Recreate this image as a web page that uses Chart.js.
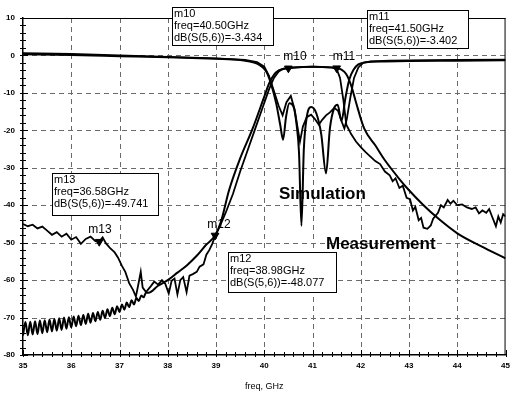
<!DOCTYPE html>
<html>
<head>
<meta charset="utf-8">
<script src="https://cdn.jsdelivr.net/npm/chart.js@4/dist/chart.umd.min.js"></script>
<style>
  html, body { margin: 0; padding: 0; background: #fff; }
  #chart { display: block; }
</style>
</head>
<body>
<canvas id="chart" width="516" height="396"></canvas>
<script>
// Simulated S(5,6)
const simS21Freq = [
  35.00, 35.05, 35.10, 35.15, 35.20, 35.25, 35.30, 35.35, 35.40, 35.45,
  35.50, 35.55, 35.60, 35.65, 35.70, 35.75, 35.80, 35.85, 35.90, 35.95,
  36.00, 36.05, 36.10, 36.15, 36.20, 36.25, 36.30, 36.35, 36.40, 36.45,
  36.50, 36.55, 36.60, 36.65, 36.70, 36.75, 36.80, 36.85, 36.90, 36.95,
  37.00, 37.05, 37.10, 37.15, 37.20, 37.25, 37.30, 37.35, 37.40, 37.45,
  37.50, 37.55, 37.60, 37.80, 38.00, 38.20, 38.40, 38.60, 38.80, 38.98,
  39.10, 39.27, 39.50, 39.76, 40.00, 40.10, 40.20, 40.30, 40.50, 40.80,
  41.00, 41.20, 41.50, 41.60, 41.70, 41.80, 41.90, 42.07, 42.30, 42.50,
  42.80, 43.00, 43.30, 43.60, 44.00, 44.50, 45.00
];
const simS21Db = [
  -74.8, -71.2, -74.7, -71.1, -74.5, -71.0, -74.4, -70.8, -74.2, -70.7,
  -73.9, -70.5, -73.7, -70.4, -73.5, -70.2, -73.3, -70.0, -73.0, -69.9,
  -72.6, -69.7, -72.3, -69.5, -72.0, -69.3, -71.7, -69.0, -71.4, -68.8,
  -71.0, -68.5, -70.6, -68.2, -70.1, -67.8, -69.6, -67.4, -69.1, -67.0,
  -68.5, -66.5, -67.9, -66.0, -67.2, -65.4, -66.5, -64.8, -65.6, -64.1,
  -64.6, -63.3, -63.4, -61.5, -60.0, -58.0, -56.0, -53.5, -50.5, -48.1,
  -44.5, -36.0, -27.5, -19.5, -11.0, -7.5, -5.2, -4.0, -3.4, -3.1,
  -3.0, -3.1, -3.4, -3.8, -5.0, -8.0, -12.5, -19.5, -24.0, -28.0,
  -33.0, -36.0, -40.0, -43.5, -47.5, -51.0, -54.2
];

// Measured S(5,6)
const measS21Freq = [
  35.00, 35.10, 35.20, 35.30, 35.40, 35.50, 35.60, 35.70, 35.80, 35.90,
  36.00, 36.10, 36.20, 36.30, 36.40, 36.50, 36.58, 36.65, 36.72, 36.80,
  36.90, 36.97, 37.05, 37.12, 37.20, 37.28, 37.34, 37.40, 37.44, 37.48,
  37.55, 37.65, 37.72, 37.80, 37.88, 37.95, 38.02, 38.08, 38.14, 38.20,
  38.26, 38.32, 38.39, 38.45, 38.52, 38.60, 38.66, 38.74, 38.80, 38.86,
  38.92, 38.98, 39.10, 39.20, 39.35, 39.50, 39.65, 39.80, 39.95, 40.10,
  40.20, 40.30, 40.40, 40.60, 41.00, 41.40, 41.50, 41.57, 41.64, 41.70,
  41.80, 41.90, 42.00, 42.10, 42.20, 42.30, 42.40, 42.50, 42.60, 42.66,
  42.72, 42.80, 42.87, 42.95, 43.02, 43.08, 43.13, 43.20, 43.25, 43.30,
  43.38, 43.45, 43.50, 43.60, 43.66, 43.72, 43.80, 43.86, 43.92, 44.00,
  44.10, 44.20, 44.30, 44.38, 44.45, 44.52, 44.60, 44.66, 44.72, 44.80,
  44.85, 44.90, 44.95, 45.00
];
const measS21Db = [
  -45.0, -45.6, -45.2, -46.2, -45.7, -46.8, -47.9, -47.2, -48.4, -47.6,
  -49.2, -48.5, -50.3, -49.0, -48.4, -49.6, -49.7, -48.6, -50.2, -51.4,
  -52.6, -54.0, -56.2, -57.8, -60.8, -62.6, -64.4, -60.5, -57.8, -62.0,
  -63.2, -61.6, -60.4, -61.2, -60.0, -61.0, -63.6, -60.2, -59.6, -63.8,
  -60.0, -59.2, -63.2, -58.8, -58.4, -57.8, -56.4, -55.8, -53.2, -52.0,
  -50.4, -48.3, -45.0, -42.0, -37.0, -31.0, -25.5, -20.0, -14.5, -9.0,
  -6.0, -4.3, -3.5, -3.2, -3.0, -3.2, -3.6, -6.0, -12.0, -18.5,
  -21.0, -23.0, -24.5, -25.8, -27.0, -28.2, -29.0, -31.0, -32.0, -33.6,
  -32.8, -35.4, -34.8, -38.0, -38.4, -41.4, -40.4, -44.0, -43.4, -46.0,
  -46.3, -45.4, -43.6, -42.0, -40.0, -40.6, -38.6, -39.6, -38.8, -40.0,
  -39.8, -40.6, -41.0, -40.6, -42.2, -41.4, -42.0, -41.0, -43.0, -45.6,
  -43.0, -44.6, -42.4, -43.0
];

// Simulated reflection (flat outside the band, notches inside)
const simS11Freq = [
  35.0, 36.0, 37.0, 38.0, 39.0, 39.5, 39.7, 39.85, 39.95, 40.05,
  40.15, 40.25, 40.33, 40.39, 40.45, 40.52, 40.60, 40.67, 40.72, 40.77,
  40.82, 40.88, 40.97, 41.08, 41.18, 41.28, 41.36, 41.45, 41.52, 41.60,
  41.68, 41.76, 41.85, 41.95, 42.1, 42.5, 43.0, 44.0, 45.0
];
const simS11Db = [
  0.3, 0.1, -0.2, -0.5, -0.9, -1.2, -1.6, -2.2, -3.0, -4.5,
  -8.0, -13.0, -18.5, -22.5, -16.5, -12.8, -13.5, -18.5, -26.0, -45.5,
  -25.0, -16.5, -13.8, -15.5, -21.0, -31.5, -19.5, -14.0, -13.2, -17.5,
  -11.5, -6.5, -3.8, -2.4, -1.8, -1.6, -1.5, -1.4, -1.3
];

// Measured reflection
const measS11Freq = [
  35.0, 36.0, 37.0, 38.0, 39.0, 39.6, 39.85, 40.0, 40.1, 40.2,
  40.3, 40.38, 40.46, 40.55, 40.63, 40.70, 40.74, 40.80, 40.88, 40.97,
  41.05, 41.13, 41.20, 41.28, 41.36, 41.45, 41.53, 41.60, 41.66, 41.71,
  41.78, 41.86, 41.95, 42.05, 42.2, 42.6, 43.0, 44.0, 45.0
];
const measS11Db = [
  0.6, 0.4, 0.0, -0.4, -0.8, -1.2, -1.8, -3.0, -5.5, -9.5,
  -13.5, -16.0, -12.5, -10.8, -14.5, -20.0, -23.0, -19.0, -16.5, -15.8,
  -17.0, -18.5, -17.2, -16.0, -15.2, -14.0, -14.8, -17.5, -19.5, -17.0,
  -11.5, -6.0, -3.2, -2.0, -1.6, -1.4, -1.3, -1.2, -1.1
];

// Markers
const markerNames = ["m10", "m11", "m12", "m13"];
const markerFreq = [40.50, 41.50, 38.98, 36.58];
const markerDb = [-3.434, -3.402, -48.077, -49.741];

// Tick labels
const xTicks = [35, 36, 37, 38, 39, 40, 41, 42, 43, 44, 45];
const yTicks = [10, 0, -10, -20, -30, -40, -50, -60, -70, -80];

function toPoints(xs, ys) {
  return xs.map((x, i) => ({ x: x, y: ys[i] }));
}

function curve(label, xs, ys, width, smooth) {
  return {
    label: label,
    data: toPoints(xs, ys),
    borderColor: "#000",
    borderWidth: width,
    pointRadius: 0,
    tension: smooth ? 0.4 : 0,
    cubicInterpolationMode: smooth ? "monotone" : "default",
    fill: false,
  };
}

// Marker box positions (left, top, width, height) and label spots
const boxLayout = {
  m10: { box: [172, 7, 101, 38], label: [295, 60] },
  m11: { box: [367, 10, 101, 38], label: [344, 60] },
  m12: { box: [228, 252, 108, 40], label: [219, 228] },
  m13: { box: [52, 173, 106, 42], label: [100, 233] },
};

const framePlugin = {
  id: "frame",
  beforeDatasetsDraw(chart) {
    const { ctx, chartArea: a, scales } = chart;
    ctx.save();
    // dashed grid
    ctx.strokeStyle = "#6a6a6a";
    ctx.lineWidth = 1;
    ctx.setLineDash([5, 4]);
    ctx.beginPath();
    xTicks.slice(1, -1).forEach((v) => {
      const px = Math.round(scales.x.getPixelForValue(v)) + 0.5;
      ctx.moveTo(px, a.top);
      ctx.lineTo(px, a.bottom);
    });
    yTicks.slice(1, -1).forEach((v) => {
      const py = Math.round(scales.y.getPixelForValue(v)) + 0.5;
      ctx.moveTo(a.left, py);
      ctx.lineTo(a.right, py);
    });
    ctx.stroke();
    ctx.setLineDash([]);
    ctx.strokeStyle = "#000";
    // top and right border
    ctx.beginPath();
    ctx.moveTo(a.left, a.top + 0.5);
    ctx.lineTo(a.right, a.top + 0.5);
    ctx.moveTo(a.right - 0.5, a.top);
    ctx.lineTo(a.right - 0.5, a.bottom);
    ctx.stroke();
    // minor / major ticks on x
    ctx.beginPath();
    for (let v = 350; v <= 450; v += 2) {
      const px = Math.round(scales.x.getPixelForValue(v / 10)) + 0.5;
      const len = v % 10 === 0 ? 5 : 3;
      ctx.moveTo(px, a.bottom + 2);
      ctx.lineTo(px, a.bottom - len);
    }
    // minor / major ticks on y
    for (let v = -80; v <= 10; v += 2) {
      const py = Math.round(scales.y.getPixelForValue(v)) + 0.5;
      const len = v % 10 === 0 ? 5 : 3;
      ctx.moveTo(a.left - 3, py);
      ctx.lineTo(a.left + len, py);
    }
    ctx.stroke();
    ctx.restore();
  },
  afterDatasetsDraw(chart) {
    const { ctx } = chart;
    ctx.save();
    ctx.fillStyle = "#000";
    ctx.textBaseline = "alphabetic";
    markerNames.forEach((name, i) => {
      const lay = boxLayout[name];
      const [bx, by, bw, bh] = lay.box;
      ctx.fillStyle = "#fff";
      ctx.fillRect(bx, by, bw, bh);
      ctx.strokeStyle = "#000";
      ctx.lineWidth = 1;
      ctx.strokeRect(bx + 0.5, by + 0.5, bw, bh);
      ctx.fillStyle = "#000";
      ctx.font = "11px 'Liberation Sans', Arial, sans-serif";
      ctx.textAlign = "left";
      const lines = [
        name,
        "freq=" + markerFreq[i].toFixed(2) + "GHz",
        "dB(S(5,6))=" + markerDb[i].toFixed(3),
      ];
      lines.forEach((t, k) => ctx.fillText(t, bx + 2, by + 10 + k * 12));
      ctx.font = "12px 'Liberation Sans', Arial, sans-serif";
      ctx.textAlign = "center";
      ctx.fillText(name, lay.label[0], lay.label[1]);
    });
    ctx.font = "bold 17px 'Liberation Sans', Arial, sans-serif";
    ctx.textAlign = "left";
    ctx.fillText("Simulation", 279, 199);
    ctx.fillText("Measurement", 326, 249);
    ctx.restore();
  },
};

const ctx = document.getElementById("chart").getContext("2d");
new Chart(ctx, {
  type: "line",
  data: {
    datasets: [
      curve("Simulation S21", simS21Freq, simS21Db, 2, true),
      curve("Measurement S21", measS21Freq, measS21Db, 1.8, false),
      curve("Simulation S11", simS11Freq, simS11Db, 2, true),
      curve("Measurement S11", measS11Freq, measS11Db, 1.8, false),
      {
        label: "Markers",
        data: toPoints(markerFreq, markerDb),
        showLine: false,
        pointStyle: "triangle",
        rotation: 180,
        pointRadius: 4.5,
        backgroundColor: "#000",
        borderColor: "#000",
      },
    ],
  },
  options: {
    responsive: false,
    animation: false,
    devicePixelRatio: 1,
    layout: { padding: { top: 18, right: 1, left: 0, bottom: 0 } },
    plugins: {
      legend: { display: false },
      tooltip: { enabled: false },
    },
    scales: {
      x: {
        type: "linear",
        min: 35,
        max: 45,
        afterFit: (scale) => { scale.height = 41; },
        afterBuildTicks: (scale) => { scale.ticks = xTicks.map((v) => ({ value: v })); },
        ticks: {
          color: "#000",
          padding: 6,
          maxRotation: 0,
          font: { family: "'Liberation Sans', Arial", size: 8, weight: "bold" },
        },
        grid: { display: false, drawTicks: false },
        border: { color: "#000", width: 1.5 },
        title: {
          display: true,
          text: "freq, GHz",
          color: "#000",
          font: { family: "'Liberation Sans', Arial", size: 9 },
          padding: { top: 0, bottom: 4 },
        },
      },
      y: {
        min: -80,
        max: 10,
        afterFit: (scale) => { scale.width = 23; },
        afterBuildTicks: (scale) => { scale.ticks = yTicks.map((v) => ({ value: v })); },
        ticks: {
          color: "#000",
          padding: 8,
          font: { family: "'Liberation Sans', Arial", size: 8, weight: "bold" },
        },
        grid: { display: false, drawTicks: false },
        border: { color: "#000", width: 1.5 },
      },
    },
  },
  plugins: [framePlugin],
});
</script>
</body>
</html>
